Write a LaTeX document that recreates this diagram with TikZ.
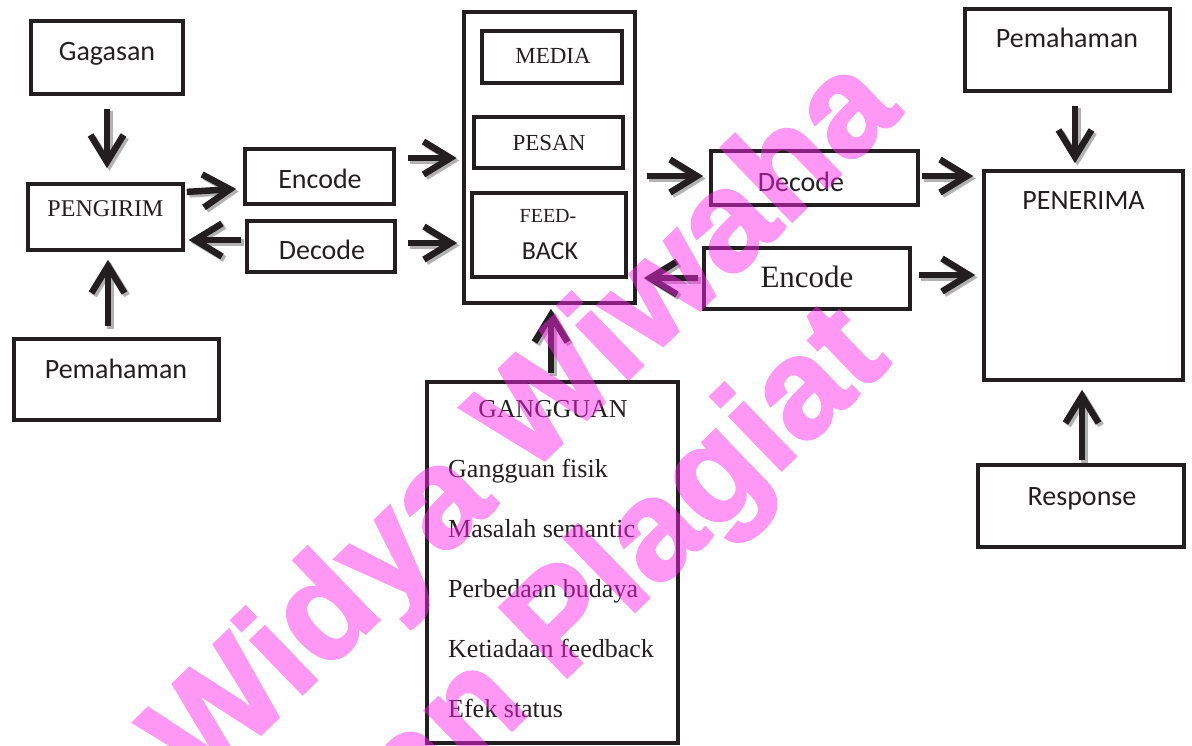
\documentclass[tikz,border=0pt]{standalone}
\usepackage{fontspec}
\setmainfont{Liberation Serif}
\newfontfamily\carl{Carlito}
\newfontfamily\wmf{Liberation Sans}[BoldFeatures={FakeBold=2}]
\usetikzlibrary{arrows.meta}
\definecolor{ink}{RGB}{35,31,32}
\definecolor{wm}{RGB}{255,34,234}
\newcommand\shadarrow[3]{%
  \draw[arr,#1,draw=black!30,transform canvas={shift={(2.5pt,-2.5pt)}}] #2 -- #3;
  \draw[arr,#1] #2 -- #3;}
\begin{document}
\begin{tikzpicture}[x=1pt,y=-1pt,
  box/.style={draw=ink, line width=3.6pt, inner sep=0pt},
  arr/.style={draw=ink, line width=6.5pt, -{Straight Barb[length=27pt,width=33pt]}},
  sf/.style={font=\carl\fontsize{28}{30}\selectfont, text=ink, inner sep=0pt, anchor=base},
  rm/.style={font=\fontsize{24}{26}\selectfont, text=ink, inner sep=0pt, anchor=base},
  item/.style={font=\fontsize{26}{28}\selectfont, text=ink, inner sep=0pt, anchor=base west},
  wmark/.style={font=\wmf\bfseries\fontsize{141}{141}\selectfont, text=wm,
    inner sep=0pt, anchor=base, rotate=44}]
\useasboundingbox (0,0) rectangle (1192,745);
\clip (0,0) rectangle (1192,745);

% boxes
\node[box, minimum width=152.5pt, minimum height=73.5pt] (gag) at (107,57.5) {};
\node[box, minimum width=155.5pt, minimum height=66.5pt] (peng) at (105.5,217) {};
\node[box, minimum width=149.5pt, minimum height=55.5pt] (encL) at (319.5,176.5) {};
\node[box, minimum width=148.5pt, minimum height=51.5pt] (decL) at (321,246.5) {};
\node[box, minimum width=205.5pt, minimum height=81.5pt] (pemL) at (116.5,379.5) {};
\node[box, minimum width=171.5pt, minimum height=291.5pt] (outer) at (549.5,157.5) {};
\node[box, minimum width=140.5pt, minimum height=52.5pt] (media) at (552,57) {};
\node[box, minimum width=149.5pt, minimum height=51.5pt] (pesan) at (548.5,142.5) {};
\node[box, minimum width=154.5pt, minimum height=84.5pt] (fb) at (549,235) {};
\node[box, minimum width=207.5pt, minimum height=54.5pt] (decR) at (814.5,178) {};
\node[box, minimum width=206.5pt, minimum height=61.5pt] (encR) at (807,278.5) {};
\node[box, minimum width=205.5pt, minimum height=82.5pt] (pemR) at (1067.5,50) {};
\node[box, minimum width=199.5pt, minimum height=209.5pt] (pen) at (1083.5,275.5) {};
\node[box, minimum width=206.5pt, minimum height=82.5pt] (resp) at (1081,506) {};
\node[box, minimum width=251.5pt, minimum height=361.5pt] (gang) at (552.5,562.5) {};

% texts
\node[sf] (tgag) at (107,60) {Gagasan};
\node[rm] (tpeng) at (105.5,216) {PENGIRIM};
\node[sf] (tencL) at (320,188) {Encode};
\node[sf] (tdecL) at (322,259) {Decode};
\node[sf] (tpemL) at (116,378) {Pemahaman};
\node[rm, font=\fontsize{23}{25}\selectfont] (tmedia) at (553,63) {MEDIA};
\node[rm, font=\fontsize{23}{25}\selectfont] (tpesan) at (549,150) {PESAN};
\node[rm, font=\fontsize{20}{22}\selectfont] (tfeed) at (548,222) {FEED-};
\node[sf, font=\carl\fontsize{26}{28}\selectfont] (tback) at (550,259) {BACK};
\node[sf] (tdecR) at (801,191) {Decode};
\node[rm, font=\fontsize{31}{33}\selectfont] (tencR) at (807,287) {Encode};
\node[sf] (tpemR) at (1067,47.5) {Pemahaman};
\node[sf] (tpen) at (1083.5,209) {PENERIMA};
\node[sf] (tresp) at (1082,505) {Response};
\node[rm, font=\fontsize{25.8}{28}\selectfont] (tgang) at (553,417) {GANGGUAN};
\node[item] (g1) at (448,477) {Gangguan fisik};
\node[item] (g2) at (448,537) {Masalah semantic};
\node[item] (g3) at (448,597) {Perbedaan budaya};
\node[item] (g4) at (448,657) {Ketiadaan feedback};
\node[item] (g5) at (448,717) {Efek status};

% arrows
\shadarrow{shorten <=12.75pt, shorten >=13.75pt}{(gag.south)}{(gag.south |- peng.north)}
\shadarrow{shorten <=1.75pt, shorten >=6.75pt}{([yshift=25pt]peng.east)}{([yshift=-12pt]encL.west)}
\shadarrow{shorten <=3.75pt, shorten >=3.75pt}{([yshift=6.5pt]decL.west)}{([yshift=6.5pt]decL.west -| peng.east)}
\shadarrow{shorten <=10.75pt, shorten >=7.75pt}{([xshift=2.5pt]peng.south |- pemL.north)}{([xshift=2.5pt]peng.south)}
\shadarrow{shorten <=11.75pt, shorten >=5.25pt}{([yshift=18.5pt]encL.east)}{([yshift=18.5pt]encL.east -| outer.west)}
\shadarrow{shorten <=10.75pt, shorten >=4.75pt}{([yshift=3.5pt]decL.east)}{([yshift=3.5pt]decL.east -| outer.west)}
\shadarrow{shorten <=9.75pt, shorten >=5.75pt}{([yshift=2pt]decR.west -| outer.east)}{([yshift=2pt]decR.west)}
\shadarrow{shorten <=1.75pt, shorten >=8.75pt}{([yshift=2pt]decR.east)}{([yshift=2pt]decR.east -| pen.west)}
\shadarrow{shorten <=3.75pt, shorten >=6.75pt}{([yshift=0.5pt]encR.west)}{([yshift=0.5pt]encR.west -| outer.east)}
\shadarrow{shorten <=6.75pt, shorten >=6.75pt}{([yshift=3.5pt]encR.east)}{([yshift=3.5pt]encR.east -| pen.west)}
\shadarrow{shorten <=12.75pt, shorten >=5.75pt}{([xshift=-8.5pt]pen.north |- pemR.south)}{([xshift=-8.5pt]pen.north)}
\shadarrow{shorten <=2.75pt, shorten >=7.75pt}{([xshift=1pt]resp.north)}{([xshift=1pt]resp.north |- pen.south)}
\shadarrow{shorten <=6.75pt, shorten >=3.75pt}{([xshift=-1.5pt]gang.north)}{([xshift=-1.5pt]gang.north |- outer.south)}

% watermark
\begin{scope}[transparency group, opacity=0.47]
\node[wmark] (wm1) at (552,453) {Widya Wiwaha};
\node[wmark] (wm2) at (535,708) {Jangan Plagiat};
\end{scope}
\end{tikzpicture}
\end{document}
